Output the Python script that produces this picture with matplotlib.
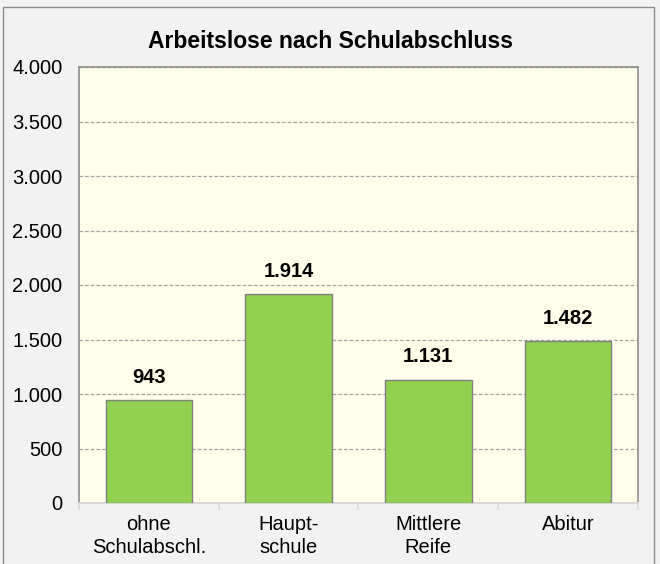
import matplotlib
matplotlib.use("Agg")
import matplotlib.pyplot as plt
from matplotlib.patches import Rectangle
from matplotlib.ticker import FuncFormatter, MultipleLocator
import numpy as np

plt.rcParams["font.family"] = ["Liberation Sans", "DejaVu Sans"]

categories = ["ohne\nSchulabschl.", "Haupt-\nschule", "Mittlere\nReife", "Abitur"]
values = [943, 1914, 1131, 1482]

W, H = 660, 564
fig = plt.figure(figsize=(W / 100, H / 100), dpi=100)
fig.patch.set_facecolor("#f2f2f2")

# outer chart frame
fig.patches.append(Rectangle((3 / W, -0.01), (654 - 3) / W, 1 - 7 / H + 0.01,
                             transform=fig.transFigure, fill=False,
                             edgecolor="#8c8c8c", linewidth=1.0))

left, right, top, bottom = 79, 638, 67, 503
ax = fig.add_axes([left / W, 1 - bottom / H, (right - left) / W, (bottom - top) / H])
ax.set_facecolor("#ffffeb")

x = np.arange(len(categories))
ax.bar(x, values, width=0.62, color="#92d050", edgecolor="#7f7f7f",
       linewidth=1.0, zorder=3)

for xi, v in zip(x, values):
    ax.text(xi, v + 210, f"{v:,}".replace(",", "."), ha="center", va="center",
            fontsize=14.5, fontweight="bold", color="black", zorder=4)

ax.set_xlim(-0.5, len(categories) - 0.5)
ax.set_ylim(0, 4000)
ax.yaxis.set_major_locator(MultipleLocator(500))
ax.yaxis.set_major_formatter(FuncFormatter(lambda v, p: f"{int(v):,}".replace(",", ".")))
ax.grid(axis="y", color="#a6a6a6", linestyle=(0, (3, 1.5)), linewidth=0.9, zorder=1)

ax.set_xticks(x)
ax.set_xticklabels(categories, fontsize=14.5, linespacing=1.25)
ax.set_xticks(np.arange(-0.5, len(categories), 1), minor=True)
ax.tick_params(axis="x", which="major", length=0, pad=9)
ax.tick_params(axis="x", which="minor", length=5, color="#d9d9d9", width=1.2)
ax.tick_params(axis="y", length=0, pad=12, labelsize=14.5)

for s in ["top", "right", "left"]:
    ax.spines[s].set_color("#8c8c8c")
    ax.spines[s].set_linewidth(1.2)
ax.spines["bottom"].set_color("#d9d9d9")
ax.spines["bottom"].set_linewidth(1.5)

fig.text(330 / W, 1 - 42 / H, "Arbeitslose nach Schulabschluss", ha="center",
         va="center", fontsize=16.5, fontweight="bold")

fig.savefig("out.png", dpi=100, facecolor=fig.get_facecolor())
